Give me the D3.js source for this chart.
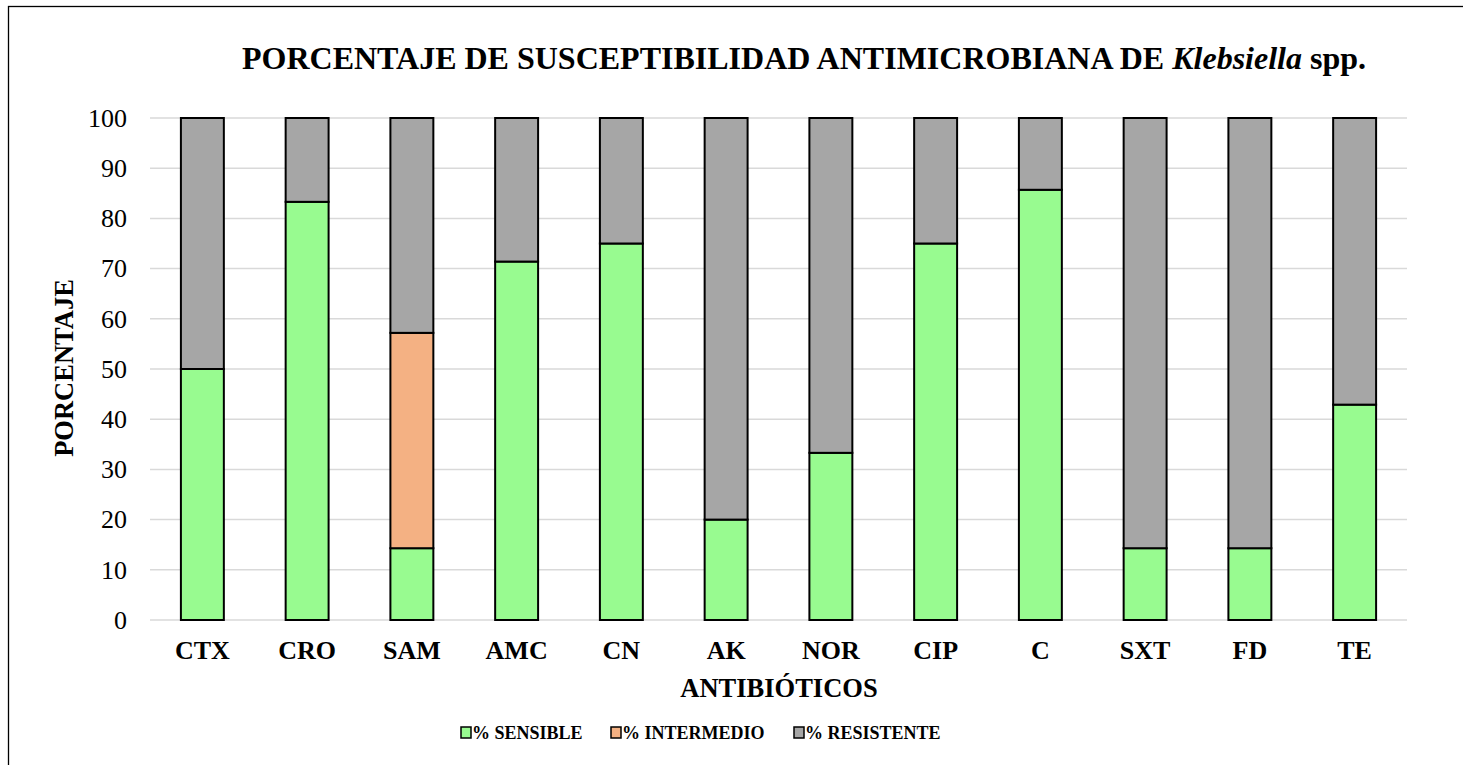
<!DOCTYPE html>
<html>
<head>
<meta charset="utf-8">
<script src="https://cdn.jsdelivr.net/npm/d3@7"></script>
<style>
  body { margin: 0; background: #fff; }
</style>
</head>
<body>
<div id="chart"></div>
<script>
const categories = ['CTX', 'CRO', 'SAM', 'AMC', 'CN', 'AK', 'NOR', 'CIP', 'C', 'SXT', 'FD', 'TE']
const sensible = [50, 83.3, 14.3, 71.4, 75, 20, 33.3, 75, 85.7, 14.3, 14.3, 42.9]
const intermedio = [0, 0, 42.9, 0, 0, 0, 0, 0, 0, 0, 0, 0]
const resistente = [50, 16.7, 42.8, 28.6, 25, 80, 66.7, 25, 14.3, 85.7, 85.7, 57.1]
const yTicks = [0, 10, 20, 30, 40, 50, 60, 70, 80, 90, 100]
const seriesNames = ['% SENSIBLE', '% INTERMEDIO', '% RESISTENTE']
const colors = ['#98fb90', '#f4b183', '#a6a6a6']

const FONT = "'Liberation Serif', 'Times New Roman', serif"

const W = 1463
const H = 765
const margin = { top: 118, left: 150, right: 56, bottom: 145 }
const width = W - margin.left - margin.right
const height = H - margin.top - margin.bottom

const svg = d3
  .select('#chart')
  .append('svg')
  .attr('width', W)
  .attr('height', H)
  .style('font-family', FONT)

// outer frame (only left and top edges visible)
svg
  .append('rect')
  .attr('x', 8.5)
  .attr('y', 6.5)
  .attr('width', W + 20)
  .attr('height', H + 20)
  .attr('fill', 'none')
  .attr('stroke', '#000')
  .attr('stroke-width', 1.3)

const g = svg
  .append('g')
  .attr('transform', 'translate(' + margin.left + ',' + margin.top + ')')

const x = d3
  .scaleBand()
  .domain(categories)
  .range([0, width])
  .paddingInner(0.59)
  .paddingOuter(0.295)

const y = d3
  .scaleLinear()
  .domain([0, 100])
  .range([height, 0])

// gridlines
g.append('g')
  .selectAll('line')
  .data(yTicks)
  .enter()
  .append('line')
  .attr('x1', 0)
  .attr('x2', width)
  .attr('y1', d => y(d))
  .attr('y2', d => y(d))
  .attr('stroke', '#d9d9d9')
  .attr('stroke-width', 1.5)

// y labels
const yAxis = g
  .append('g')
  .call(d3.axisLeft(y).tickValues(yTicks).tickSize(0).tickPadding(23))
yAxis.select('.domain').remove()
yAxis.attr('font-family', null).attr('font-size', null)
yAxis
  .selectAll('text')
  .attr('font-size', 26)
  .attr('fill', '#000')
  .style('font-family', FONT)

// stacked bars
const table = categories.map((c, i) => ({
  cat: c,
  s0: sensible[i],
  s1: intermedio[i],
  s2: resistente[i]
}))
const stack = d3.stack().keys(['s0', 's1', 's2'])(table)

stack.forEach((layer, k) => {
  g.append('g')
    .selectAll('rect')
    .data(layer.filter(d => d[1] - d[0] > 0))
    .enter()
    .append('rect')
    .attr('x', d => x(d.data.cat))
    .attr('y', d => y(d[1]))
    .attr('width', x.bandwidth())
    .attr('height', d => y(d[0]) - y(d[1]))
    .attr('fill', colors[k])
    .attr('stroke', '#000')
    .attr('stroke-width', 2)
})

// x labels
const xAxis = g
  .append('g')
  .attr('transform', 'translate(0,' + height + ')')
  .call(d3.axisBottom(x).tickSize(0).tickPadding(21))
xAxis.select('.domain').remove()
xAxis.attr('font-family', null).attr('font-size', null)
xAxis
  .selectAll('text')
  .attr('font-size', 26)
  .attr('font-weight', 'bold')
  .attr('fill', '#000')
  .style('font-family', FONT)

// title
const title = svg
  .append('text')
  .attr('x', 804)
  .attr('y', 69)
  .attr('text-anchor', 'middle')
  .attr('font-size', 32)
  .attr('font-weight', 'bold')
title.append('tspan').text('PORCENTAJE DE SUSCEPTIBILIDAD ANTIMICROBIANA DE ')
title.append('tspan').attr('font-style', 'italic').text('Klebsiella')
title.append('tspan').text(' spp.')

// axis titles
svg
  .append('text')
  .attr('x', 779)
  .attr('y', 697)
  .attr('text-anchor', 'middle')
  .attr('font-size', 26.5)
  .attr('font-weight', 'bold')
  .text('ANTIBIÓTICOS')

svg
  .append('text')
  .attr('transform', 'translate(73,368) rotate(-90)')
  .attr('text-anchor', 'middle')
  .attr('font-size', 26.5)
  .attr('font-weight', 'bold')
  .text('PORCENTAJE')

// legend
const legendX = [460, 610, 793]
const legend = svg
  .append('g')
  .selectAll('g')
  .data(seriesNames)
  .enter()
  .append('g')
  .attr('transform', (d, i) => 'translate(' + legendX[i] + ',739)')

legend
  .append('rect')
  .attr('x', 1)
  .attr('y', -12)
  .attr('width', 10)
  .attr('height', 11)
  .attr('fill', (d, i) => colors[i])
  .attr('stroke', '#000')
  .attr('stroke-width', 1.5)

legend
  .append('text')
  .attr('x', 12)
  .attr('y', 0)
  .attr('font-size', 18)
  .attr('font-weight', 'bold')
  .text(d => d)
</script>
</body>
</html>
